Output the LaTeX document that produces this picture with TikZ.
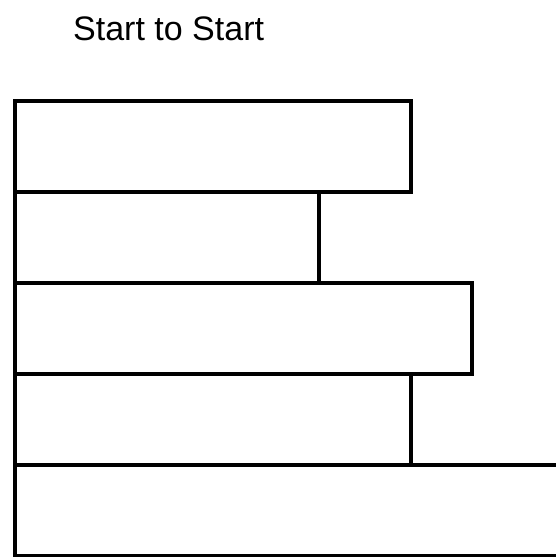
\documentclass[tikz,border=0pt]{standalone}
\usepackage{fontspec}
\setmainfont{Liberation Sans}
\usepackage{tikz}
\usetikzlibrary{positioning}

\begin{document}
\begin{tikzpicture}[
  x=1pt, y=-1pt,
  node distance=0pt,
  bar/.style={draw, line width=3.6pt, inner sep=0pt, outer sep=0pt, minimum height=91pt, anchor=north west},
  heading/.style={font=\fontsize{34}{40}\selectfont, inner sep=0pt, anchor=base west},
]
\clip (0,0) rectangle (556,557);
% Title
\node[heading] (title) at (73,40) {Start to Start};

% Stacked bars, all starting at the same left edge
\node[bar, minimum width=396pt] (b1) at (15,101) {};
\node[bar, minimum width=304pt, below=of b1.south west, anchor=north west] (b2) {};
\node[bar, minimum width=457pt, below=of b2.south west, anchor=north west] (b3) {};
\node[bar, minimum width=396pt, below=of b3.south west, anchor=north west] (b4) {};
\node[bar, minimum width=600pt, below=of b4.south west, anchor=north west] (b5) {};
\end{tikzpicture}
\end{document}
